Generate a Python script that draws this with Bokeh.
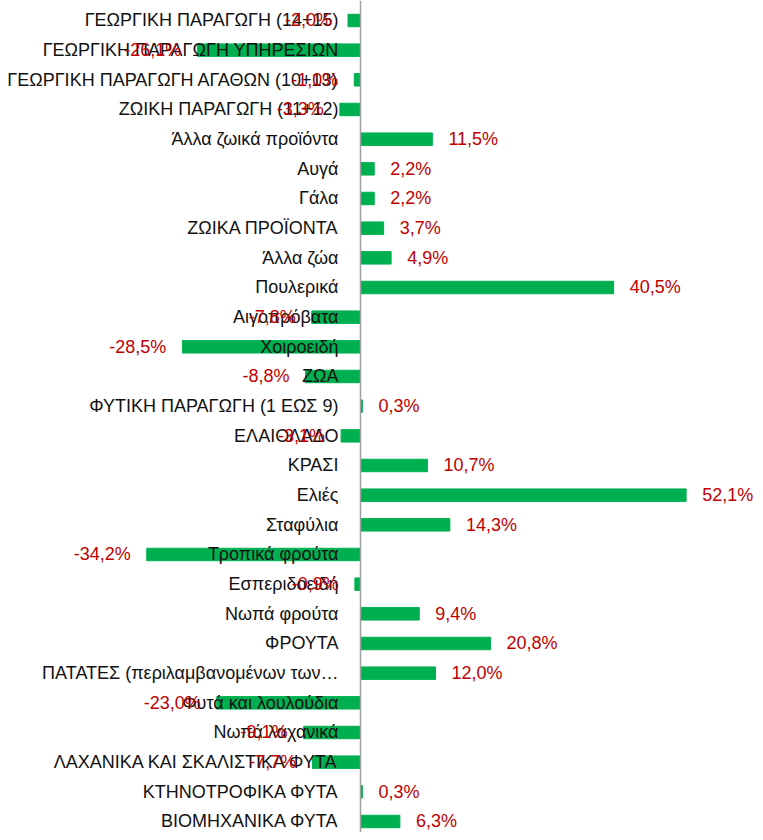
from bokeh.plotting import figure
from bokeh.models import Range1d, ColumnDataSource, LinearAxis, FixedTicker
from bokeh.embed import file_html
from bokeh.resources import INLINE

categories = [
    "ΓΕΩΡΓΙΚΗ ΠΑΡΑΓΩΓΗ (14+15)",
    "ΓΕΩΡΓΙΚΗ ΠΑΡΑΓΩΓΗ ΥΠΗΡΕΣΙΩΝ",
    "ΓΕΩΡΓΙΚΗ ΠΑΡΑΓΩΓΗ ΑΓΑΘΩΝ (10+13)",
    "ΖΩΙΚΗ ΠΑΡΑΓΩΓΗ (11+12)",
    "Άλλα ζωικά προϊόντα",
    "Αυγά",
    "Γάλα",
    "ΖΩΙΚΑ ΠΡΟΪΟΝΤΑ",
    "Άλλα ζώα",
    "Πουλερικά",
    "Αιγοπρόβατα",
    "Χοιροειδή",
    "ΖΩΑ",
    "ΦΥΤΙΚΗ ΠΑΡΑΓΩΓΗ (1 ΕΩΣ 9)",
    "ΕΛΑΙΟΛΑΔΟ",
    "ΚΡΑΣΙ",
    "Ελιές",
    "Σταφύλια",
    "Τροπικά φρούτα",
    "Εσπεριδοειδή",
    "Νωπά φρούτα",
    "ΦΡΟΥΤΑ",
    "ΠΑΤΑΤΕΣ (περιλαμβανομένων των…",
    "Φυτά και λουλούδια",
    "Νωπά λαχανικά",
    "ΛΑΧΑΝΙΚΑ ΚΑΙ ΣΚΑΛΙΣΤΙΚΑ ΦΥΤΑ",
    "ΚΤΗΝΟΤΡΟΦΙΚΑ ΦΥΤΑ",
    "ΒΙΟΜΗΧΑΝΙΚΑ ΦΥΤΑ",
]

values = [
    -2.0, -26.1, -1.0, -3.3, 11.5, 2.2, 2.2, 3.7, 4.9, 40.5,
    -7.8, -28.5, -8.8, 0.3, -3.1, 10.7, 52.1, 14.3, -34.2, -0.9,
    9.4, 20.8, 12.0, -23.0, -9.1, -7.7, 0.3, 6.3,
]

labels = [f"{v:.1f}".replace(".", ",") + "%" for v in values]
positions = list(range(len(categories)))

src = ColumnDataSource(dict(
    pos=positions,
    val=values,
    lab=labels,
    align=["left" if v >= 0 else "right" for v in values],
    xoff=[16 if v >= 0 else -16 for v in values],
))

p = figure(
    width=755, height=832,
    x_range=Range1d(-57.6, 63.2),
    y_range=Range1d(len(categories) - 1 + 0.371, -0.674),
    output_backend="svg", toolbar_location=None,
    x_axis_location=None, y_axis_location=None,
    min_border=0,
)
p.outline_line_color = None
p.grid.grid_line_color = None

p.hbar(y="pos", left=0, right="val", height=0.42, color="#00B050", source=src)

axis = LinearAxis(fixed_location=0, ticker=FixedTicker(ticks=positions, minor_ticks=[]))
axis.major_label_overrides = {i: c for i, c in zip(positions, categories)}
axis.axis_line_color = "#A0A0A0"
axis.axis_line_width = 1.5
axis.major_tick_line_color = None
axis.minor_tick_line_color = None
axis.major_label_standoff = 16
axis.major_label_text_font = "Liberation Sans"
axis.major_label_text_font_size = "18px"
axis.major_label_text_color = "#111111"
p.add_layout(axis, "left")

p.text(x="val", y="pos", text="lab", source=src,
       text_align="align", x_offset="xoff", text_baseline="middle",
       text_color="#C00000", text_font_size="18px",
       text_font={"value": "Liberation Sans"}, level="overlay")

open("out.html", "w").write(file_html(p, INLINE))
